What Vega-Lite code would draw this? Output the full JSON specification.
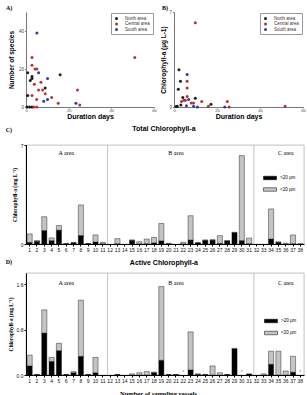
{
  "$schema": "https://vega.github.io/schema/vega-lite/v6.json",
  "padding": {"left": 5, "top": 5, "right": 2, "bottom": 0},
  "spacing": 5,
  "resolve": {"scale": {"color": "independent"}, "legend": {"color": "independent"}},
  "config": {
    "view": {"stroke": null},
    "font": "Liberation Sans",
    "axis": {
      "labelFont": "Liberation Sans",
      "titleFont": "Liberation Sans",
      "titleFontWeight": "bold",
      "titleColor": "#000",
      "labelColor": "#111",
      "domainColor": "#000",
      "tickColor": "#000",
      "tickSize": 2,
      "labelPadding": 1,
      "labelOverlap": false,
      "labelFlush": false,
      "grid": false
    }
  },
  "datasets": {
    "species": [
      {"days": 0.8, "species": 18, "area": "North area"},
      {"days": 16, "species": 17, "area": "North area"},
      {"days": 2.8, "species": 16, "area": "North area"},
      {"days": 2.8, "species": 15, "area": "North area"},
      {"days": 2, "species": 14, "area": "North area"},
      {"days": 9, "species": 10, "area": "North area"},
      {"days": 0.8, "species": 6, "area": "North area"},
      {"days": 0.5, "species": 0, "area": "North area"},
      {"days": 1.7, "species": 0, "area": "North area"},
      {"days": 2.8, "species": 0, "area": "North area"},
      {"days": 2.8, "species": 26, "area": "Central area"},
      {"days": 2.8, "species": 22, "area": "Central area"},
      {"days": 4.2, "species": 20, "area": "Central area"},
      {"days": 5.1, "species": 20, "area": "Central area"},
      {"days": 7, "species": 13, "area": "Central area"},
      {"days": 3.9, "species": 12, "area": "Central area"},
      {"days": 5.9, "species": 9, "area": "Central area"},
      {"days": 7.8, "species": 9, "area": "Central area"},
      {"days": 24.1, "species": 9, "area": "Central area"},
      {"days": 9, "species": 7, "area": "Central area"},
      {"days": 2.8, "species": 6, "area": "Central area"},
      {"days": 12, "species": 5, "area": "Central area"},
      {"days": 5, "species": 4, "area": "Central area"},
      {"days": 15.1, "species": 2, "area": "Central area"},
      {"days": 25.2, "species": 1, "area": "Central area"},
      {"days": 5, "species": 0, "area": "Central area"},
      {"days": 3.6, "species": 0, "area": "Central area"},
      {"days": 51, "species": 26, "area": "Central area"},
      {"days": 5.1, "species": 39, "area": "South area"},
      {"days": 5.9, "species": 18, "area": "South area"},
      {"days": 10.1, "species": 15, "area": "South area"},
      {"days": 10.1, "species": 4, "area": "South area"},
      {"days": 8.3, "species": 3, "area": "South area"},
      {"days": 23.4, "species": 2, "area": "South area"}
    ],
    "chla": [
      {"days": 2.3, "chl": 2.75, "area": "North area"},
      {"days": 3, "chl": 1.9, "area": "North area"},
      {"days": 2, "chl": 1.3, "area": "North area"},
      {"days": 4.1, "chl": 0.7, "area": "North area"},
      {"days": 9.9, "chl": 0.65, "area": "North area"},
      {"days": 17.2, "chl": 0.2, "area": "North area"},
      {"days": 3.2, "chl": 0.15, "area": "North area"},
      {"days": 1.5, "chl": 0.05, "area": "North area"},
      {"days": 1, "chl": 0.03, "area": "North area"},
      {"days": 9.9, "chl": 6.2, "area": "Central area"},
      {"days": 6.1, "chl": 1.9, "area": "Central area"},
      {"days": 6.1, "chl": 1.4, "area": "Central area"},
      {"days": 6.1, "chl": 0.77, "area": "Central area"},
      {"days": 4.6, "chl": 0.5, "area": "Central area"},
      {"days": 5.3, "chl": 0.5, "area": "Central area"},
      {"days": 3.5, "chl": 0.4, "area": "Central area"},
      {"days": 12.9, "chl": 0.4, "area": "Central area"},
      {"days": 24.8, "chl": 0.4, "area": "Central area"},
      {"days": 8, "chl": 0.3, "area": "Central area"},
      {"days": 9.1, "chl": 0.3, "area": "Central area"},
      {"days": 16, "chl": 0.05, "area": "Central area"},
      {"days": 25.7, "chl": 0, "area": "Central area"},
      {"days": 51.7, "chl": 0.05, "area": "Central area"},
      {"days": 6.1, "chl": 2.4, "area": "South area"},
      {"days": 6.8, "chl": 0.55, "area": "South area"},
      {"days": 5.8, "chl": 0.1, "area": "South area"},
      {"days": 9.1, "chl": 0.05, "area": "South area"},
      {"days": 10.9, "chl": 0, "area": "South area"},
      {"days": 23.6, "chl": 0, "area": "South area"}
    ],
    "total": [
      {"vessel": 1, "fraction": ">20 µm", "value": 0.12}, {"vessel": 1, "fraction": "<20 µm", "value": 0.59},
      {"vessel": 2, "fraction": ">20 µm", "value": 0.19}, {"vessel": 2, "fraction": "<20 µm", "value": 0.05},
      {"vessel": 3, "fraction": ">20 µm", "value": 0.95}, {"vessel": 3, "fraction": "<20 µm", "value": 0.98},
      {"vessel": 4, "fraction": ">20 µm", "value": 0.24}, {"vessel": 4, "fraction": "<20 µm", "value": 0.19},
      {"vessel": 5, "fraction": ">20 µm", "value": 0.98}, {"vessel": 5, "fraction": "<20 µm", "value": 0.33},
      {"vessel": 6, "fraction": ">20 µm", "value": 0.01}, {"vessel": 6, "fraction": "<20 µm", "value": 0.02},
      {"vessel": 7, "fraction": ">20 µm", "value": 0.08}, {"vessel": 7, "fraction": "<20 µm", "value": 0.02},
      {"vessel": 8, "fraction": ">20 µm", "value": 0.6}, {"vessel": 8, "fraction": "<20 µm", "value": 2.16},
      {"vessel": 9, "fraction": ">20 µm", "value": 0.02}, {"vessel": 9, "fraction": "<20 µm", "value": 0.01},
      {"vessel": 10, "fraction": ">20 µm", "value": 0.14}, {"vessel": 10, "fraction": "<20 µm", "value": 0.5},
      {"vessel": 11, "fraction": ">20 µm", "value": 0.02}, {"vessel": 11, "fraction": "<20 µm", "value": 0.1},
      {"vessel": 13, "fraction": ">20 µm", "value": 0.02}, {"vessel": 13, "fraction": "<20 µm", "value": 0.36},
      {"vessel": 15, "fraction": ">20 µm", "value": 0.26}, {"vessel": 15, "fraction": "<20 µm", "value": 0.02},
      {"vessel": 16, "fraction": ">20 µm", "value": 0.01}, {"vessel": 16, "fraction": "<20 µm", "value": 0.15},
      {"vessel": 17, "fraction": ">20 µm", "value": 0.02}, {"vessel": 17, "fraction": "<20 µm", "value": 0.33},
      {"vessel": 18, "fraction": ">20 µm", "value": 0.08}, {"vessel": 18, "fraction": "<20 µm", "value": 0.39},
      {"vessel": 19, "fraction": ">20 µm", "value": 0.22}, {"vessel": 19, "fraction": "<20 µm", "value": 1.23},
      {"vessel": 20, "fraction": ">20 µm", "value": 0.01}, {"vessel": 20, "fraction": "<20 µm", "value": 0.04},
      {"vessel": 22, "fraction": ">20 µm", "value": 0.01}, {"vessel": 22, "fraction": "<20 µm", "value": 0.11},
      {"vessel": 23, "fraction": ">20 µm", "value": 0.28}, {"vessel": 23, "fraction": "<20 µm", "value": 1.72},
      {"vessel": 24, "fraction": ">20 µm", "value": 0.08}, {"vessel": 24, "fraction": "<20 µm", "value": 0.01},
      {"vessel": 25, "fraction": ">20 µm", "value": 0.26}, {"vessel": 25, "fraction": "<20 µm", "value": 0.02},
      {"vessel": 26, "fraction": ">20 µm", "value": 0.27}, {"vessel": 26, "fraction": "<20 µm", "value": 0.03},
      {"vessel": 27, "fraction": ">20 µm", "value": 0.04}, {"vessel": 27, "fraction": "<20 µm", "value": 0.55},
      {"vessel": 28, "fraction": ">20 µm", "value": 0.21}, {"vessel": 28, "fraction": "<20 µm", "value": 0.03},
      {"vessel": 29, "fraction": ">20 µm", "value": 0.8}, {"vessel": 29, "fraction": "<20 µm", "value": 0.03},
      {"vessel": 30, "fraction": ">20 µm", "value": 0.24}, {"vessel": 30, "fraction": "<20 µm", "value": 6.01},
      {"vessel": 31, "fraction": ">20 µm", "value": 0.02}, {"vessel": 31, "fraction": "<20 µm", "value": 0.4},
      {"vessel": 34, "fraction": ">20 µm", "value": 0.35}, {"vessel": 34, "fraction": "<20 µm", "value": 2.13},
      {"vessel": 35, "fraction": ">20 µm", "value": 0.12}, {"vessel": 35, "fraction": "<20 µm", "value": 0.03},
      {"vessel": 36, "fraction": "<20 µm", "value": 0.05},
      {"vessel": 37, "fraction": ">20 µm", "value": 0.02}, {"vessel": 37, "fraction": "<20 µm", "value": 0.62},
      {"vessel": 38, "fraction": "<20 µm", "value": 0.02}
    ],
    "active": [
      {"vessel": 1, "fraction": ">20 µm", "value": 0.16}, {"vessel": 1, "fraction": "<20 µm", "value": 0.19},
      {"vessel": 2, "fraction": ">20 µm", "value": 0.01},
      {"vessel": 3, "fraction": ">20 µm", "value": 0.74}, {"vessel": 3, "fraction": "<20 µm", "value": 0.41},
      {"vessel": 4, "fraction": ">20 µm", "value": 0.24}, {"vessel": 4, "fraction": "<20 µm", "value": 0.07},
      {"vessel": 5, "fraction": ">20 µm", "value": 0.43}, {"vessel": 5, "fraction": "<20 µm", "value": 0.13},
      {"vessel": 6, "fraction": ">20 µm", "value": 0.01},
      {"vessel": 7, "fraction": ">20 µm", "value": 0.04}, {"vessel": 7, "fraction": "<20 µm", "value": 0.02},
      {"vessel": 8, "fraction": ">20 µm", "value": 0.33}, {"vessel": 8, "fraction": "<20 µm", "value": 0.99},
      {"vessel": 9, "fraction": ">20 µm", "value": 0.01},
      {"vessel": 10, "fraction": ">20 µm", "value": 0.04}, {"vessel": 10, "fraction": "<20 µm", "value": 0.27},
      {"vessel": 13, "fraction": ">20 µm", "value": 0.01},
      {"vessel": 15, "fraction": "<20 µm", "value": 0.02},
      {"vessel": 16, "fraction": "<20 µm", "value": 0.04},
      {"vessel": 17, "fraction": "<20 µm", "value": 0.06},
      {"vessel": 18, "fraction": ">20 µm", "value": 0.04}, {"vessel": 18, "fraction": "<20 µm", "value": 0.01},
      {"vessel": 19, "fraction": ">20 µm", "value": 0.26}, {"vessel": 19, "fraction": "<20 µm", "value": 1.3},
      {"vessel": 20, "fraction": ">20 µm", "value": 0.01},
      {"vessel": 21, "fraction": ">20 µm", "value": 0.01},
      {"vessel": 23, "fraction": ">20 µm", "value": 0.09}, {"vessel": 23, "fraction": "<20 µm", "value": 0.67},
      {"vessel": 24, "fraction": ">20 µm", "value": 0.01}, {"vessel": 24, "fraction": "<20 µm", "value": 0.01},
      {"vessel": 25, "fraction": ">20 µm", "value": 0.01},
      {"vessel": 26, "fraction": "<20 µm", "value": 0.16},
      {"vessel": 27, "fraction": "<20 µm", "value": 0.04},
      {"vessel": 28, "fraction": ">20 µm", "value": 0.01},
      {"vessel": 29, "fraction": ">20 µm", "value": 0.46}, {"vessel": 29, "fraction": "<20 µm", "value": 0.01},
      {"vessel": 31, "fraction": ">20 µm", "value": 0.02},
      {"vessel": 33, "fraction": "<20 µm", "value": 0.02},
      {"vessel": 34, "fraction": ">20 µm", "value": 0.19}, {"vessel": 34, "fraction": "<20 µm", "value": 0.23},
      {"vessel": 35, "fraction": "<20 µm", "value": 0.42},
      {"vessel": 36, "fraction": "<20 µm", "value": 0.07},
      {"vessel": 37, "fraction": ">20 µm", "value": 0.05}, {"vessel": 37, "fraction": "<20 µm", "value": 0.28}
    ],
    "areas": [
      {"vessel": 6, "label": "A area"},
      {"vessel": 21, "label": "B area"},
      {"vessel": 36, "label": "C area"}
    ],
    "borders": [{"vessel": 12}, {"vessel": 32}],
    "notDetected": [{"vessel": 22, "mark": "*"}, {"vessel": 30, "mark": "*"}, {"vessel": 38, "mark": "*"}]
  },
  "vconcat": [
    {
      "spacing": 3,
      "resolve": {"scale": {"color": "independent"}, "legend": {"color": "independent"}},
      "hconcat": [
        {
          "width": 128,
          "height": 95,
          "layer": [
            {
              "data": {"name": "species"},
              "mark": {"type": "point", "filled": true, "size": 9, "opacity": 0.95},
              "encoding": {
                "x": {"field": "days", "type": "quantitative", "scale": {"domain": [0, 60]},
                  "axis": {"title": "Duration days", "values": [0, 10, 20, 30, 40, 50, 60], "labelFontSize": 4, "labelPadding": 0, "titleFontSize": 7, "titleY": 9, "titleBaseline": "middle", "tickSize": 1, "domainColor": "#777", "tickColor": "#777", "labelColor": "#444"}},
                "y": {"field": "species", "type": "quantitative", "scale": {"domain": [0, 50]},
                  "axis": {"title": "Number of species", "values": [0, 10, 20, 30, 40, 50], "labelFontSize": 4.5, "titleFontSize": 6.5, "titlePadding": 4, "tickSize": 1.5, "domainColor": "#777", "tickColor": "#777", "labelColor": "#444"}},
                "color": {"field": "area", "type": "nominal",
                  "scale": {"domain": ["North area", "Central area", "South area"], "range": ["#111111", "#b02a2a", "#2a2ea8"]},
                  "legend": {"title": null, "orient": "top-right", "offset": 1, "fillColor": "#fff", "strokeColor": "#999", "padding": 3, "labelFontSize": 4.5, "labelColor": "#333", "symbolSize": 9, "symbolType": "circle", "rowPadding": 0.5, "labelOffset": 6}}
              }
            },
            {
              "data": {"values": [{"tag": "A)"}]},
              "mark": {"type": "text", "align": "left", "baseline": "middle", "font": "Liberation Serif", "fontWeight": "bold", "fontSize": 6, "dx": -20, "dy": -4},
              "encoding": {"x": {"datum": 0}, "y": {"datum": 50}, "text": {"field": "tag"}}
            }
          ]
        },
        {
          "width": 129,
          "height": 95,
          "layer": [
            {
              "data": {"name": "chla"},
              "mark": {"type": "point", "filled": true, "size": 9, "opacity": 0.95},
              "encoding": {
                "x": {"field": "days", "type": "quantitative", "scale": {"domain": [0, 60]},
                  "axis": {"title": "Duration days", "values": [0, 10, 20, 30, 40, 50, 60], "labelFontSize": 4, "labelPadding": 0, "titleFontSize": 7, "titleY": 9, "titleBaseline": "middle", "tickSize": 1, "domainColor": "#777", "tickColor": "#777", "labelColor": "#444"}},
                "y": {"field": "chl", "type": "quantitative", "scale": {"domain": [0, 7]},
                  "axis": {"title": "Chlorophyll-a (µg L-1)", "values": [0, 1, 2, 3, 4, 5, 6, 7], "labelFontSize": 4.5, "titleFontSize": 6.5, "titlePadding": 2, "tickSize": 1.5, "domainColor": "#777", "tickColor": "#777", "labelColor": "#444"}},
                "color": {"field": "area", "type": "nominal",
                  "scale": {"domain": ["North area", "Central area", "South area"], "range": ["#111111", "#b02a2a", "#2a2ea8"]},
                  "legend": {"title": null, "orient": "top-right", "offset": 1, "fillColor": "#fff", "strokeColor": "#999", "padding": 3, "labelFontSize": 4.5, "labelColor": "#333", "symbolSize": 9, "symbolType": "circle", "rowPadding": 0.5, "labelOffset": 6}}
              }
            },
            {
              "data": {"values": [{"tag": "B)"}]},
              "mark": {"type": "text", "align": "left", "baseline": "middle", "font": "Liberation Serif", "fontWeight": "bold", "fontSize": 6, "dx": -12, "dy": -4},
              "encoding": {"x": {"datum": 0}, "y": {"datum": 7}, "text": {"field": "tag"}}
            }
          ]
        }
      ]
    },
    {
      "width": 278,
      "height": 99,
      "view": {"stroke": "#999", "strokeWidth": 0.6},
      "layer": [
        {
          "data": {"name": "total"},
          "mark": {"type": "bar", "stroke": "#000", "strokeWidth": 0.4},
          "encoding": {
            "x": {"field": "vessel", "type": "ordinal",
              "scale": {"domain": [1,2,3,4,5,6,7,8,9,10,11,12,13,14,15,16,17,18,19,20,21,22,23,24,25,26,27,28,29,30,31,32,33,34,35,36,37,38], "paddingInner": 0.3, "paddingOuter": 0.15},
              "axis": {"title": null, "labelAngle": 0, "labelFontSize": 5, "tickSize": 2}},
            "y": {"field": "value", "type": "quantitative", "stack": "zero", "scale": {"domain": [0, 7]},
              "axis": {"title": "Chlorophyll-a (mg L⁻¹)", "titleFont": "Liberation Serif", "titleFontSize": 5.5, "values": [0, 1, 2, 3, 4, 5, 6, 7], "labelFontSize": 5, "titlePadding": 3}},
            "color": {"field": "fraction", "type": "nominal",
              "scale": {"domain": [">20 µm", "<20 µm"], "range": ["#000000", "#c4c4c4"]},
              "legend": {"title": null, "orient": "none", "legendX": 237, "legendY": 26, "symbolType": "M-1,-0.27H1V0.27H-1Z", "symbolSize": 169, "symbolStrokeColor": "#000", "symbolStrokeWidth": 0.5, "labelFontSize": 4.5, "rowPadding": 1.5, "labelOffset": 3}},
            "order": {"field": "fraction", "sort": "descending"}
          }
        },
        {
          "data": {"name": "borders"},
          "mark": {"type": "rule", "color": "#aaa", "strokeWidth": 0.7},
          "encoding": {"x": {"field": "vessel", "type": "ordinal", "bandPosition": 0}}
        },
        {
          "data": {"name": "areas"},
          "mark": {"type": "text", "font": "Liberation Serif", "fontSize": 6, "baseline": "middle"},
          "encoding": {"x": {"field": "vessel", "type": "ordinal"}, "y": {"datum": 6.4}, "text": {"field": "label"}}
        },
        {
          "data": {"values": [{"vessel": 19, "label": "Total Chlorophyll-a"}]},
          "mark": {"type": "text", "fontWeight": "bold", "fontSize": 7, "baseline": "middle", "dy": -16},
          "encoding": {"x": {"field": "vessel", "type": "ordinal", "bandPosition": 1}, "y": {"datum": 7}, "text": {"field": "label"}}
        },
        {
          "data": {"values": [{"vessel": 1, "tag": "C)"}]},
          "mark": {"type": "text", "align": "left", "font": "Liberation Serif", "fontWeight": "bold", "fontSize": 6, "baseline": "middle", "dx": -24, "dy": -15},
          "encoding": {"x": {"field": "vessel", "type": "ordinal"}, "y": {"datum": 7}, "text": {"field": "tag"}}
        }
      ]
    },
    {
      "width": 278,
      "height": 102,
      "view": {"stroke": "#999", "strokeWidth": 0.6},
      "layer": [
        {
          "data": {"name": "active"},
          "mark": {"type": "bar", "stroke": "#000", "strokeWidth": 0.4},
          "encoding": {
            "x": {"field": "vessel", "type": "ordinal",
              "scale": {"domain": [1,2,3,4,5,6,7,8,9,10,11,12,13,14,15,16,17,18,19,20,21,22,23,24,25,26,27,28,29,30,31,32,33,34,35,36,37,38], "paddingInner": 0.3, "paddingOuter": 0.15},
              "axis": {"title": "Number of sampling vessels", "titleFont": "Liberation Serif", "titleFontSize": 6.5, "titleY": 18, "titleX": 132, "titleBaseline": "middle", "labelAngle": 0, "labelFontSize": 5, "tickSize": 2}},
            "y": {"field": "value", "type": "quantitative", "stack": "zero", "scale": {"domain": [0, 1.8]},
              "axis": {"title": "Chlorophyll-a (mg L⁻¹)", "titleFont": "Liberation Serif", "titleFontSize": 5.5, "values": [0, 0.2, 0.4, 0.6, 0.8, 1.0, 1.2, 1.4, 1.6, 1.8], "format": ".1f", "labelFontSize": 5, "titlePadding": 3}},
            "color": {"field": "fraction", "type": "nominal",
              "scale": {"domain": [">20 µm", "<20 µm"], "range": ["#000000", "#c4c4c4"]},
              "legend": {"title": null, "orient": "none", "legendX": 238, "legendY": 41, "symbolType": "M-1,-0.27H1V0.27H-1Z", "symbolSize": 169, "symbolStrokeColor": "#000", "symbolStrokeWidth": 0.5, "labelFontSize": 4.5, "rowPadding": 2, "labelOffset": 3}},
            "order": {"field": "fraction", "sort": "descending"}
          }
        },
        {
          "data": {"name": "borders"},
          "mark": {"type": "rule", "color": "#aaa", "strokeWidth": 0.7},
          "encoding": {"x": {"field": "vessel", "type": "ordinal", "bandPosition": 0}}
        },
        {
          "data": {"name": "notDetected"},
          "mark": {"type": "text", "fontSize": 5, "color": "#777", "baseline": "middle", "dy": -3},
          "encoding": {"x": {"field": "vessel", "type": "ordinal"}, "y": {"datum": 0}, "text": {"field": "mark"}}
        },
        {
          "data": {"name": "areas"},
          "mark": {"type": "text", "font": "Liberation Serif", "fontSize": 6, "baseline": "middle"},
          "encoding": {"x": {"field": "vessel", "type": "ordinal"}, "y": {"datum": 1.63}, "text": {"field": "label"}}
        },
        {
          "data": {"values": [{"vessel": 19, "label": "Active Chlorophyll-a"}]},
          "mark": {"type": "text", "fontWeight": "bold", "fontSize": 7, "baseline": "middle", "dy": -10},
          "encoding": {"x": {"field": "vessel", "type": "ordinal", "bandPosition": 1}, "y": {"datum": 1.8}, "text": {"field": "label"}}
        },
        {
          "data": {"values": [{"vessel": 1, "tag": "D)"}]},
          "mark": {"type": "text", "align": "left", "font": "Liberation Serif", "fontWeight": "bold", "fontSize": 6, "baseline": "middle", "dx": -24, "dy": -11},
          "encoding": {"x": {"field": "vessel", "type": "ordinal"}, "y": {"datum": 1.8}, "text": {"field": "tag"}}
        }
      ]
    }
  ]
}
